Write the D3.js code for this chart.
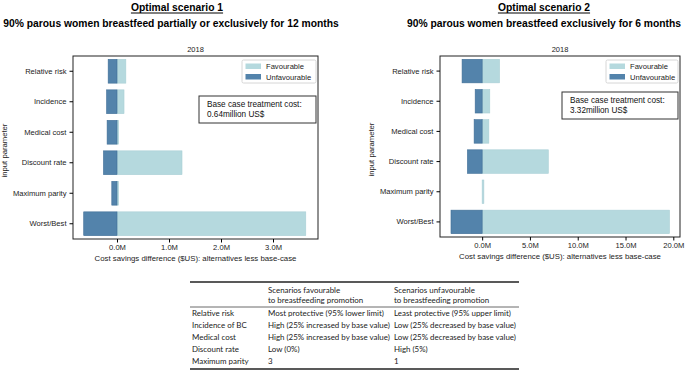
<!DOCTYPE html>
<html>
<head>
<meta charset="utf-8">
<script src="https://cdn.jsdelivr.net/npm/d3@7"></script>
<style>
  body { margin: 0; background: #fff; }
  svg { display: block; }
</style>
</head>
<body>
<div id="chart"></div>
<script>
// tornado chart data, values in $US
const params = ["Relative risk", "Incidence", "Medical cost", "Discount rate", "Maximum parity", "Worst/Best"];

const s1Favourable = [0.17e6, 0.135e6, 0.03e6, 1.25e6, 0.03e6, 3.63e6];
const s1Unfavourable = [-0.17e6, -0.2e6, -0.19e6, -0.26e6, -0.1e6, -0.64e6];
const s1Ticks = [0, 1e6, 2e6, 3e6];

const s2Favourable = [1.82e6, 0.8e6, 0.7e6, 6.92e6, 0.18e6, 19.6e6];
const s2Unfavourable = [-2.1e6, -0.73e6, -0.84e6, -1.54e6, 0, -3.26e6];
const s2Ticks = [0, 5e6, 10e6, 15e6, 20e6];

const tableHeader = ["", "Scenarios favourable|to breastfeeding promotion", "Scenarios unfavourable|to breastfeeding promotion"];
const tableRows = [
    ["Relative risk", "Most protective (95% lower limit)", "Least protective (95% upper limit)"],
    ["Incidence of BC", "High (25% increased by base value)", "Low (25% decreased by base value)"],
    ["Medical cost", "High (25% increased by base value)", "Low (25% decreased by base value)"],
    ["Discount rate", "Low (0%)", "High (5%)"],
    ["Maximum parity", "3", "1"]
];

const favColor = "#b5d9de";
const unfavColor = "#5383ab";
const font = "Liberation Sans, Arial, sans-serif";

const svg = d3.select("#chart").append("svg")
    .attr("width", 685)
    .attr("height", 371)
    .style("font-family", font);

function drawPanel(opt) {
    const g = svg.append("g");
    const x = d3.scaleLinear(opt.domain, [opt.left, opt.right]);
    const y = d3.scaleBand(params, [opt.top, opt.bottom]).paddingInner(0.22).paddingOuter(0.11);

    // titles
    const t1 = g.append("text")
        .attr("x", opt.titleX).attr("y", 11)
        .attr("text-anchor", "middle")
        .style("font-size", "10.3px").style("font-weight", "bold")
        .text(opt.title);
    const w = t1.node().getComputedTextLength();
    g.append("line")
        .attr("x1", opt.titleX - w / 2).attr("x2", opt.titleX + w / 2)
        .attr("y1", 13).attr("y2", 13)
        .attr("stroke", "#000").attr("stroke-width", 1);
    g.append("text")
        .attr("x", opt.subX).attr("y", 27)
        .attr("text-anchor", "middle")
        .style("font-size", "10.3px").style("font-weight", "bold")
        .text(opt.subtitle);

    g.append("text")
        .attr("x", (opt.left + opt.right) / 2).attr("y", 52)
        .attr("text-anchor", "middle")
        .style("font-size", "7.5px").attr("fill", "#222")
        .text("2018");

    const rows = params.map((p, i) => ({p, fav: opt.fav[i], unfav: opt.unfav[i]}));

    g.append("g").selectAll("rect")
        .data(rows.filter(d => d.fav !== 0))
        .join("rect")
        .attr("x", d => x(Math.min(0, d.fav)))
        .attr("width", d => Math.abs(x(d.fav) - x(0)))
        .attr("y", d => y(d.p))
        .attr("height", y.bandwidth())
        .attr("fill", favColor)
        .attr("stroke", "#a9cfd5").attr("stroke-width", 0.6);

    g.append("g").selectAll("rect")
        .data(rows.filter(d => d.unfav !== 0))
        .join("rect")
        .attr("x", d => x(Math.min(0, d.unfav)))
        .attr("width", d => Math.abs(x(d.unfav) - x(0)))
        .attr("y", d => y(d.p))
        .attr("height", y.bandwidth())
        .attr("fill", unfavColor)
        .attr("stroke", "#3e6d96").attr("stroke-width", 0.6);

    // frame
    g.append("rect")
        .attr("x", opt.left).attr("y", opt.top)
        .attr("width", opt.right - opt.left).attr("height", opt.bottom - opt.top)
        .attr("fill", "none").attr("stroke", "#222").attr("stroke-width", 1);

    const xAxis = g.append("g")
        .attr("transform", `translate(0,${opt.bottom})`)
        .call(d3.axisBottom(x).tickValues(opt.ticks).tickSize(3.5).tickPadding(2)
            .tickFormat(d => (d / 1e6).toFixed(1) + "M"));
    xAxis.select(".domain").remove();
    xAxis.selectAll("text").style("font-size", "7.6px").style("font-family", font).attr("fill", "#222");

    const yAxis = g.append("g")
        .attr("transform", `translate(${opt.left},0)`)
        .call(d3.axisLeft(y).tickSize(3.5).tickPadding(3));
    yAxis.select(".domain").remove();
    yAxis.selectAll("text").style("font-size", "7.6px").style("font-family", font).attr("fill", "#222");

    g.append("text")
        .attr("x", (opt.left + opt.right) / 2).attr("y", opt.bottom + 22)
        .attr("text-anchor", "middle")
        .style("font-size", "7.8px").attr("fill", "#222")
        .text("Cost savings difference ($US): alternatives less base-case");

    g.append("text")
        .attr("transform", `translate(${opt.ylabX},${(opt.top + opt.bottom) / 2 + 3}) rotate(-90)`)
        .attr("text-anchor", "middle")
        .style("font-size", "7.7px").attr("fill", "#222")
        .text("input parameter");

    // legend
    const lg = g.append("g").attr("transform", `translate(${opt.legX},60)`);
    lg.append("rect")
        .attr("width", opt.right - 2 - opt.legX).attr("height", 23)
        .attr("rx", 1.5)
        .attr("fill", "#fff").attr("stroke", "#ccc").attr("stroke-width", 0.8);
    [["Favourable", favColor], ["Unfavourable", unfavColor]].forEach(([lab, c], i) => {
        lg.append("rect")
            .attr("x", 3.5).attr("y", 3.5 + i * 10.5)
            .attr("width", 15.5).attr("height", 5.5)
            .attr("fill", c);
        lg.append("text")
            .attr("x", 24).attr("y", 9 + i * 10.5)
            .style("font-size", "7.6px").attr("fill", "#222")
            .text(lab);
    });

    // base case box
    const bx = g.append("g").attr("transform", `translate(${opt.boxX},${opt.boxY})`);
    bx.append("rect")
        .attr("width", opt.right - 2 - opt.boxX).attr("height", 27)
        .attr("fill", "#fff").attr("stroke", "#333").attr("stroke-width", 1);
    bx.append("text").attr("x", 8).attr("y", 11)
        .style("font-size", "8.2px").attr("fill", "#111")
        .text("Base case treatment cost:");
    bx.append("text").attr("x", 8).attr("y", 21)
        .style("font-size", "8.2px").attr("fill", "#111")
        .text(opt.baseCost);
}

drawPanel({
    title: "Optimal scenario 1",
    subtitle: "90% parous women breastfeed partially or exclusively for 12 months",
    titleX: 177, subX: 171,
    left: 73, right: 318, top: 56, bottom: 239,
    domain: [-0.846e6, 3.865e6],
    ticks: s1Ticks,
    fav: s1Favourable, unfav: s1Unfavourable,
    ylabX: 7,
    legX: 242,
    boxX: 199, boxY: 96,
    baseCost: "0.64million US$"
});

drawPanel({
    title: "Optimal scenario 2",
    subtitle: "90% parous women breastfeed exclusively for 6 months",
    titleX: 544, subX: 544,
    left: 440, right: 680, top: 56, bottom: 237,
    domain: [-4.41e6, 20.7e6],
    ticks: s2Ticks,
    fav: s2Favourable, unfav: s2Unfavourable,
    ylabX: 374,
    legX: 606,
    boxX: 562, boxY: 92,
    baseCost: "3.32million US$"
});

// scenario definition table
const tab = svg.append("g").style("font-family", "Lato, 'Open Sans', sans-serif").attr("fill", "#222");
const colX = [192, 268, 394];
const tLeft = 190, tRight = 519;

// fit the font so the widest cell of column 2 ends just before column 3
const probe = tab.append("text").style("font-size", "10px").text(tableRows[1][1]);
const fitSize = 10 * 122 / probe.node().getComputedTextLength();
probe.remove();
tab.style("font-size", fitSize + "px");

tab.append("line").attr("x1", tLeft).attr("x2", tRight).attr("y1", 282).attr("y2", 282)
    .attr("stroke", "#222").attr("stroke-width", 1.4);
tab.append("line").attr("x1", tLeft).attr("x2", tRight).attr("y1", 307).attr("y2", 307)
    .attr("stroke", "#444").attr("stroke-width", 0.8);
tab.append("line").attr("x1", tLeft).attr("x2", tRight).attr("y1", 369).attr("y2", 369)
    .attr("stroke", "#222").attr("stroke-width", 1.4);

tableHeader.forEach((h, i) => {
    h.split("|").forEach((line, j) => {
        if (!line) return;
        tab.append("text").attr("x", colX[i]).attr("y", 293 + j * 10).text(line);
    });
});

tableRows.forEach((r, ri) => {
    r.forEach((cell, ci) => {
        tab.append("text").attr("x", colX[ci]).attr("y", 315.5 + ri * 12).text(cell);
    });
});
</script>
</body>
</html>
